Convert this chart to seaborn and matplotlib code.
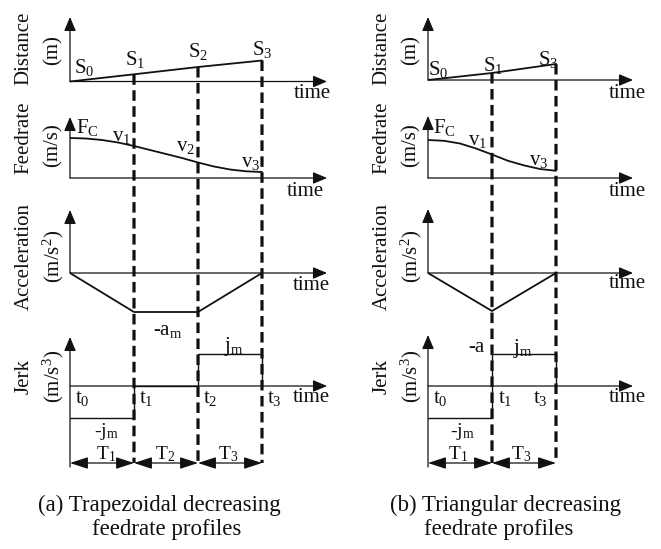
import matplotlib
matplotlib.use("Agg")
import matplotlib.pyplot as plt
import seaborn as sns
from matplotlib.patches import ConnectionPatch

# ---- profile data (time in phase units, values in arbitrary units) ----
# (a) trapezoidal deceleration: phase boundaries t0..t3
t_trap = [0, 1, 2, 3]
dist_trap = [0, 0.72, 1.45, 2.1]
feed_time_trap = [0, 0.25, 0.5, 0.75, 1.0, 1.25, 1.5, 1.75, 2.0, 2.25, 2.5, 2.75, 3.0]
feed_trap = [4.0, 3.95, 3.8, 3.55, 3.2, 2.8, 2.4, 2.0, 1.55, 1.15, 0.85, 0.67, 0.6]
acc_trap = [0, -3.9, -3.9, 0]
jerk_trap = [-3.2, 0, 3.2, 0]

# (b) triangular deceleration: phase boundaries t0, t1, t3
t_tri = [0, 1, 2]
dist_tri = [0, 0.7, 1.6]
feed_time_tri = [0, 0.25, 0.5, 0.75, 1.0, 1.25, 1.5, 1.75, 2.0]
feed_tri = [3.8, 3.72, 3.45, 2.95, 2.35, 1.72, 1.26, 0.9, 0.72]
acc_tri = [0, -3.8, 0]
jerk_tri = [-3.2, 3.2, 0]

sns.set_theme(style="white")
plt.rcParams["font.family"] = ["Liberation Serif", "DejaVu Serif"]
plt.rcParams["mathtext.fontset"] = "custom"
plt.rcParams["mathtext.rm"] = "Liberation Serif"
plt.rcParams["mathtext.it"] = "Liberation Serif:italic"
plt.rcParams["mathtext.bf"] = "Liberation Serif:bold"

W, H, DPI = 661, 549, 100
PX_T = 64.0   # pixels per time unit
PX_V = 10.0   # pixels per value unit
FS = 15
CAP_FS = 16.5
INK = "#111111"

fig = plt.figure(figsize=(W / DPI, H / DPI), dpi=DPI)


def panel(x0, x1, y_axis, top, bottom):
    ax = fig.add_axes([x0 / W, 1 - bottom / H, (x1 - x0) / W, (bottom - top) / H])
    ax.set_xlim(0, (x1 - x0) / PX_T)
    ax.set_ylim(-(bottom - y_axis) / PX_V, (y_axis - top) / PX_V)
    ax.set_axis_off()
    return ax


def arrow_axes(ax, x0, x_tip, y_axis, y_tip, y_start=0.0):
    t_tip = (x_tip - x0) / PX_T
    v_tip = (y_axis - y_tip) / PX_V
    style = "-|>,head_length=0.85,head_width=0.36"
    ax.annotate("", xy=(t_tip, 0), xytext=(0, 0),
                arrowprops=dict(arrowstyle=style, mutation_scale=10, lw=0.9,
                                color=INK, shrinkA=0, shrinkB=0))
    ax.annotate("", xy=(0, v_tip), xytext=(0, y_start),
                arrowprops=dict(arrowstyle=style, mutation_scale=10, lw=0.9,
                                color=INK, shrinkA=0, shrinkB=0))


def txt(ax, t, v, s, ha="center", size=FS):
    ax.text(t, v, s, ha=ha, va="center", fontsize=size, color=INK)


def span_arrow(ax, ta, tb, v):
    ax.annotate("", xy=(tb, v), xytext=(ta, v),
                arrowprops=dict(arrowstyle="<|-|>,head_length=1.1,head_width=0.36",
                                mutation_scale=10, lw=0.9, color=INK,
                                shrinkA=0, shrinkB=0))


def column(x0, x1, x_tip, y_axes, tips, t, dist, ft, feed, acc, jerk):
    bands = [(5, 100), (105, 200), (200, 330), (330, 475)]
    axes = [panel(x0, x1, ya, b[0], b[1]) for ya, b in zip(y_axes, bands)]
    ax_d, ax_f, ax_a, ax_j = axes
    for k, ax in enumerate(axes):
        y_start = -(467 - y_axes[3]) / PX_V if k == 3 else 0.0
        arrow_axes(ax, x0, x_tip, y_axes[k], tips[k], y_start)
    sns.lineplot(x=t, y=dist, ax=ax_d, color=INK, lw=1.3, estimator=None, sort=False)
    sns.lineplot(x=ft, y=feed, ax=ax_f, color=INK, lw=1.3, estimator=None, sort=False)
    sns.lineplot(x=t, y=acc, ax=ax_a, color=INK, lw=1.3, estimator=None, sort=False)
    sns.lineplot(x=t, y=jerk, ax=ax_j, color=INK, lw=1.0, estimator=None, sort=False,
                 drawstyle="steps-post")
    v_span = -(463 - y_axes[3]) / PX_V
    for i in range(1, len(t)):
        con = ConnectionPatch(xyA=(t[i], dist[i]), coordsA=ax_d.transData,
                              xyB=(t[i], v_span), coordsB=ax_j.transData,
                              color=INK, lw=2.3, linestyle=(0, (3.3, 1.7)))
        con.set_capstyle("butt")
        fig.add_artist(con)
    for i in range(len(t) - 1):
        span_arrow(ax_j, t[i], t[i + 1], v_span)
    return axes


def ylabels(x0):
    rows = [("Distance", "(m)", 48, 50), ("Feedrate", "(m/s)", 138, 145),
            ("Acceleration", "(m/s$^{2}$)", 257, 256), ("Jerk", "(m/s$^{3}$)", 377, 376)]
    for name, unit, yn, yu in rows:
        fig.text((x0 - 46) / W, 1 - yn / H, name, rotation=90, ha="center",
                 va="center", fontsize=FS, color=INK)
        fig.text((x0 - 17) / W, 1 - yu / H, unit, rotation=90, ha="center",
                 va="center", fontsize=FS, color=INK)


# ---- (a) trapezoidal profile ----
ad, af, aa, aj = column(70, 340, 327, (81.5, 178, 273, 386), (17, 117, 210, 337),
                        t_trap, dist_trap, feed_time_trap, feed_trap, acc_trap, jerk_trap)
ylabels(70)
txt(ad, 0.22, 1.35, r"$\mathrm{S_0}$")
txt(ad, 1.02, 2.15, r"$\mathrm{S_1}$")
txt(ad, 2.0, 3.05, r"$\mathrm{S_2}$")
txt(ad, 3.0, 3.15, r"$\mathrm{S_3}$")
txt(ad, 3.78, -1.25, "time")
txt(af, 0.1, 5.1, r"$\mathrm{F_C}$", ha="left")
txt(af, 0.81, 4.1, r"$\mathrm{v_1}$")
txt(af, 1.8, 3.1, r"$\mathrm{v_2}$")
txt(af, 2.83, 1.6, r"$\mathrm{v_3}$")
txt(af, 3.67, -1.4, "time")
txt(aa, 1.52, -5.8, r"-a$_\mathrm{m}$")
txt(aa, 3.77, -1.2, "time")
txt(aj, 2.56, 3.9, r"j$_\mathrm{m}$")
for tt, s in [(0.19, "0"), (1.19, "1"), (2.19, "2"), (3.2, "3")]:
    txt(aj, tt, -1.2, r"$\mathrm{t_%s}$" % s)
txt(aj, 3.77, -1.2, "time")
txt(aj, 0.56, -4.6, r"-j$_\mathrm{m}$", size=14)
for tt, s in [(0.56, "1"), (1.48, "2"), (2.47, "3")]:
    txt(aj, tt, -6.8, r"$\mathrm{T_%s}$" % s, size=14)

# ---- (b) triangular profile ----
bd, bf, ba, bj = column(428, 650, 633, (80, 178, 273, 386), (17, 116, 209, 335),
                        t_tri, dist_tri, feed_time_tri, feed_tri, acc_tri, jerk_tri)
ylabels(428)
txt(bd, 0.16, 1.1, r"$\mathrm{S_0}$")
txt(bd, 1.02, 1.4, r"$\mathrm{S_1}$")
txt(bd, 1.88, 2.1, r"$\mathrm{S_3}$")
txt(bd, 3.12, -1.4, "time")
txt(bf, 0.08, 5.1, r"$\mathrm{F_C}$", ha="left")
txt(bf, 0.78, 3.7, r"$\mathrm{v_1}$")
txt(bf, 1.73, 1.8, r"$\mathrm{v_3}$")
txt(bf, 3.12, -1.3, "time")
txt(ba, 3.12, -1.1, "time")
txt(bj, 0.75, 3.9, "-a")
txt(bj, 1.48, 3.8, r"j$_\mathrm{m}$")
for tt, s in [(0.19, "0"), (1.2, "1"), (1.75, "3")]:
    txt(bj, tt, -1.2, r"$\mathrm{t_%s}$" % s)
txt(bj, 3.12, -1.2, "time")
txt(bj, 0.53, -4.6, r"-j$_\mathrm{m}$", size=14)
for tt, s in [(0.47, "1"), (1.45, "3")]:
    txt(bj, tt, -6.8, r"$\mathrm{T_%s}$" % s, size=14)

# ---- captions ----
for x, y, s in [(159, 505, "(a) Trapezoidal decreasing"), (167, 529, "feedrate profiles"),
                (506, 505, "(b) Triangular decreasing"), (499, 529, "feedrate profiles")]:
    fig.text(x / W, 1 - y / H, s, ha="center", va="center", fontsize=CAP_FS, color=INK)

fig.savefig("out.png", dpi=DPI, facecolor="white")
